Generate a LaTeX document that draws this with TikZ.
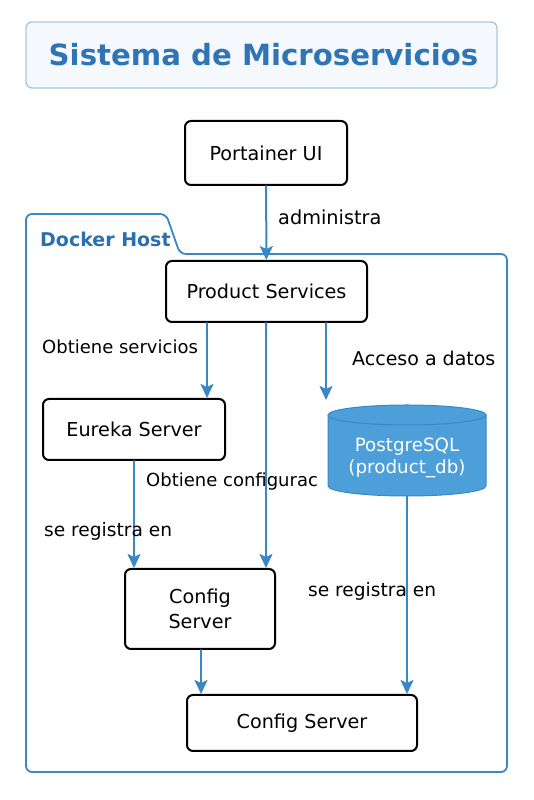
\documentclass[tikz,border=0pt]{standalone}
\usepackage{fontspec}
\setmainfont{DejaVu Sans}
\usepackage{tikz}
\usetikzlibrary{arrows.meta}
\usetikzlibrary{positioning}
\definecolor{steelblue}{HTML}{3A87C5}
\definecolor{titleblue}{HTML}{2F75B5}
\definecolor{hostblue}{HTML}{2A6FAE}
\definecolor{paleblue}{HTML}{F5F9FD}
\definecolor{frameblue}{HTML}{A9C9E2}
\definecolor{dbfill}{HTML}{4C9FD8}
\definecolor{dbline}{HTML}{3A88C6}
\begin{document}
\begin{tikzpicture}[line cap=round,line join=round,x=1pt,y=1pt,
  svc/.style={draw=black,line width=2pt,rounded corners=6pt,fill=white,align=center,
    inner sep=0pt,font=\fontsize{19.2}{25}\selectfont},
  flow/.style={draw=steelblue,line width=2pt,-{Stealth[length=14pt,width=13pt,inset=3pt]}},
  lbl/.style={anchor=west,inner sep=0pt,font=\fontsize{18}{21}\selectfont}]
\useasboundingbox (0,0) rectangle (533,800);
% titulo
\draw[frameblue,fill=paleblue,line width=1.4pt,rounded corners=6pt] (26,712) rectangle (497,778);
\node (title) at (263.5,745) {\fontsize{29.2}{34}\selectfont\bfseries\color{titleblue}Sistema de Microservicios};
% docker host
\draw[steelblue,line width=1.8pt,rounded corners=6pt] (26,28) -- (26,586) -- (166,586) -- (180,546) -- (507,546) -- (507,28) -- cycle;
\node[anchor=west,inner sep=0pt] (host) at (40,561) {\fontsize{19}{23}\selectfont\bfseries\color{hostblue}Docker Host};
% nodos
\node[svc,minimum width=162pt,minimum height=64pt] (portainer) at (266,647) {Portainer UI};
\node[svc,minimum width=201pt,minimum height=61pt] (product) at (266.5,508.5) {Product Services};
\node[svc,minimum width=182pt,minimum height=61pt] (eureka) at (134,370.5) {Eureka Server};
\node[svc,minimum width=150pt,minimum height=80pt] (configmid) at (200,191) {Config\\Server};
\node[svc,minimum width=230pt,minimum height=56pt] (configbot) at (302,77) {Config Server};
% base de datos
\filldraw[fill=dbfill,draw=dbline,line width=1pt] (328,385) -- (328,314) arc[start angle=180,end angle=360,x radius=79,y radius=10] -- (486,385) arc[start angle=0,end angle=180,x radius=79,y radius=10] -- cycle;
\draw[dbline,line width=1pt] (328,385) arc[start angle=180,end angle=360,x radius=79,y radius=10];
\node[align=center,text=white,font=\fontsize{18.3}{22}\selectfont] (db) at (407,342) {PostgreSQL\\(product\_db)};
\coordinate (dbtop) at (407,400);
\coordinate (dbbot) at (407,304);
% conexiones
\draw[flow] (portainer) -- (product);
\draw[flow] (207,0 |- product.south) -- (207,0 |- eureka.north);
\draw[flow] (266,0 |- product.south) -- (266,0 |- configmid.north);
\draw[flow] (326,0 |- product.south) -- (326,0 |- dbtop);
\draw[flow] (eureka.south) -- (eureka.south |- configmid.north);
\draw[flow] (201,0 |- configmid.south) -- (201,0 |- configbot.north);
\draw[flow] (dbbot) -- (dbbot |- configbot.north);
% etiquetas
\node[lbl,font=\fontsize{19.3}{23}\selectfont] (ladmin) at (278,583) {administra};
\node[lbl] (lserv) at (42,453) {Obtiene servicios};
\node[lbl,font=\fontsize{19}{23}\selectfont] (ldatos) at (352,442) {Acceso a datos};
\node[lbl] (lconf) at (146,318) {Obtiene configurac};
\node[lbl,font=\fontsize{18.6}{23}\selectfont] (lreg) at (44,269) {se registra en};
\node[lbl,font=\fontsize{18.6}{23}\selectfont] (lregdb) at (308,209) {se registra en};
\end{tikzpicture}
\end{document}
